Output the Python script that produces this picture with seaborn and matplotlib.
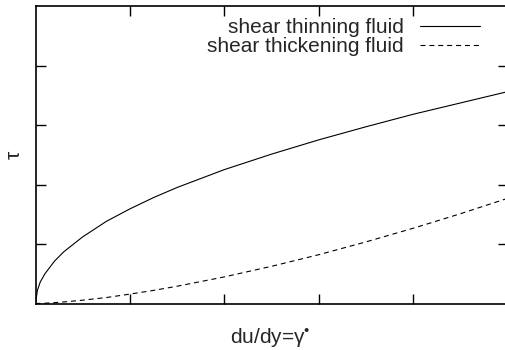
#!/usr/bin/env python3

import pandas as pd
import seaborn as sns
import matplotlib
matplotlib.use("Agg")
import matplotlib.pyplot as plt

# values (tau against du/dy)
shear_rate = [0, 0.02, 0.05, 0.1, 0.2, 0.3, 0.5, 0.75, 1, 1.25, 1.5,
              2, 2.5, 3, 3.5, 4, 4.5, 5]
tau_thinning = [0, 0.22, 0.36, 0.50, 0.71, 0.87, 1.12, 1.38, 1.59, 1.78, 1.95,
                2.25, 2.51, 2.75, 2.97, 3.18, 3.37, 3.56]
tau_thickening = [0, 0.0004, 0.002, 0.005, 0.014, 0.026, 0.056, 0.10, 0.158, 0.22, 0.29,
                  0.447, 0.625, 0.82, 1.035, 1.264, 1.508, 1.767]
series_names = ["shear thinning fluid", "shear thickening fluid"]


def configure_seaborn():
  sns.set_style("ticks")
  plt.rcParams['font.family'] = ['Liberation Sans', 'DejaVu Sans']
  plt.rcParams['mathtext.fontset'] = 'custom'
  plt.rcParams['mathtext.rm'] = 'Liberation Sans'
  plt.rcParams['mathtext.it'] = 'Liberation Sans'
  plt.rcParams['mathtext.bf'] = 'Liberation Sans'


def main():
  configure_seaborn()

  df = pd.DataFrame({
    'rate': shear_rate * 2,
    'tau': tau_thinning + tau_thickening,
    'fluid': [series_names[0]] * len(shear_rate) + [series_names[1]] * len(shear_rate),
  })

  W, H = 505, 350
  fig = plt.figure(figsize=(W / 100, H / 100), dpi=100)
  ax = fig.add_axes([35.5 / W, 1 - 303.5 / H, 472 / W, 297.5 / H])

  g = sns.lineplot(data=df, x='rate', y='tau', hue='fluid', style='fluid',
                   palette=['black', 'black'],
                   dashes={series_names[0]: '', series_names[1]: (4.5, 3.5)},
                   linewidth=0.8, ax=ax, sort=False)

  ax.set_xlim(0, 5)
  ax.set_ylim(0, 5)
  ax.set_xticks([1, 2, 3, 4])
  ax.set_yticks([1, 2, 3, 4])
  ax.tick_params(direction='in', length=7, width=1, top=True, right=True,
                 labelbottom=False, labelleft=False, color='black')
  for s in ax.spines.values():
    s.set_linewidth(1.2)
    s.set_color('black')

  ax.set_xlabel("du/dy=γ$^{•}$", fontsize=15)
  ax.xaxis.label.set_va('baseline')
  ax.xaxis.set_label_coords((270 - 35.5) / 472, -(343 - 303.5) / 297.5)
  ax.set_ylabel("τ", fontsize=15)
  ax.yaxis.set_label_coords((24 - 35.5) / 472, 0.5)

  handles, labels = ax.get_legend_handles_labels()
  ax.legend(handles, labels, loc='upper right', bbox_to_anchor=(480 / W, 1 - 18 / H),
            bbox_transform=fig.transFigure, frameon=False, markerfirst=False,
            fontsize=15, handlelength=2.9, handletextpad=0.75, labelspacing=0,
            borderpad=0, borderaxespad=0)

  fig.savefig("out.png", dpi=100)
  plt.close(fig)


if __name__ == '__main__':
  main()
